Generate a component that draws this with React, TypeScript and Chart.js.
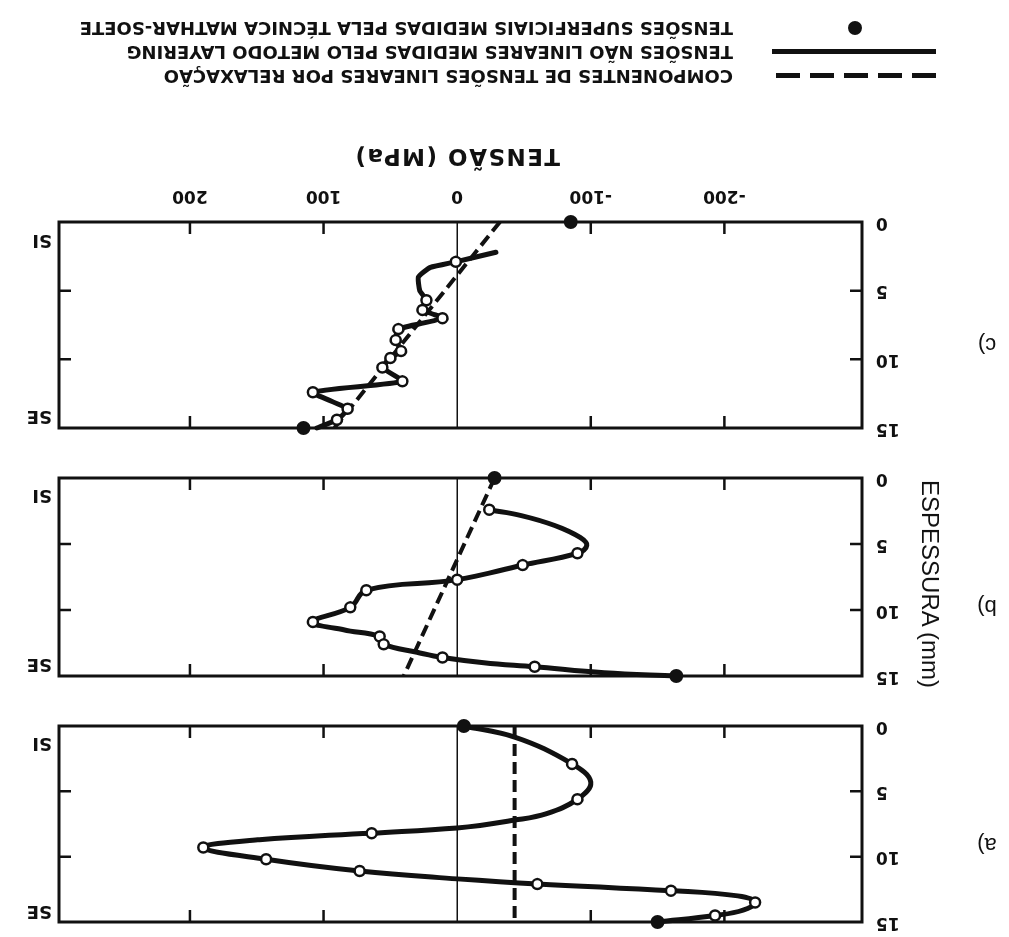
import React, { useEffect, useRef } from 'react';
import { Chart, registerables } from 'chart.js';

Chart.register(...registerables);

// ---------- data (stress MPa, thickness mm) ----------
const X_TICKS = [-200, -100, 0, 100, 200];
const X_MARKS = [-200, -100, 100, 200];
const Y_TICKS = [0, 5, 10, 15];
const Y_MARKS = [5, 10];
const SIDE_LABELS = ['SI', 'SE'];
const SIDE_POS = [1.3, 14.1];
const PANEL_LABELS = ['a)', 'b)', 'c)'];
const X_TITLE = 'TENSÃO (MPa)';
const Y_TITLE = 'ESPESSURA (mm)';
const LEGEND_LABELS = [
  'COMPONENTES DE TENSÕES LINEARES POR RELAXAÇÃO',
  'TENSÕES NÃO LINEARES MEDIDAS PELO METODO LAYERING',
  'TENSÕES SUPERFICIAIS MEDIDAS PELA TÉCNICA MATHAR-SOETE',
];

// panel a
const A_CURVE = [[-5, 0], [-43, 0.85], [-86, 2.9], [-100, 4.3], [-90, 5.6], [-67, 6.7], [-43, 7.2], [0, 7.8], [64, 8.2], [148, 8.7], [190, 9.3], [143, 10.2], [73, 11.1], [0, 11.7], [-60, 12.1], [-160, 12.6], [-210, 13.0], [-223, 13.5], [-214, 14.1], [-193, 14.5], [-150, 15]];
const A_OPEN = [[-86, 2.9], [-90, 5.6], [64, 8.2], [190, 9.3], [143, 10.2], [73, 11.1], [-60, 12.1], [-160, 12.6], [-223, 13.5], [-193, 14.5]];
const A_FILLED = [[-5, 0], [-150, 15]];
const A_DASH = [[-43, 0], [-43, 15]];

// panel b
const B_CURVE = [[-24, 2.4], [-48, 2.85], [-73, 3.6], [-92, 4.5], [-97, 5.1], [-90, 5.7], [-49, 6.6], [0, 7.7], [68, 8.5], [80, 9.8], [108, 10.9], [85, 11.5], [58, 12.0], [55, 12.6], [30, 13.2], [11, 13.6], [-20, 14.0], [-58, 14.3], [-110, 14.75], [-164, 15]];
const B_OPEN = [[-24, 2.4], [-90, 5.7], [-49, 6.6], [0, 7.7], [68, 8.5], [80, 9.8], [108, 10.9], [58, 12.0], [55, 12.6], [11, 13.6], [-58, 14.3]];
const B_FILLED = [[-28, 0], [-164, 15]];
const B_DASH = [[-28, 0], [40, 15]];

// panel c
const C_CURVE = [[-29, 2.2], [1, 2.9], [20, 3.3], [29, 4.0], [28, 5.0], [23, 5.7], [26, 6.4], [11, 7.0], [44, 7.8], [46, 8.6], [42, 9.4], [50, 9.9], [56, 10.6], [41, 11.6], [108, 12.4], [82, 13.6], [90, 14.4], [105, 15]];
const C_OPEN = [[1, 2.9], [23, 5.7], [26, 6.4], [11, 7.0], [44, 7.8], [46, 8.6], [42, 9.4], [50, 9.9], [56, 10.6], [41, 11.6], [108, 12.4], [82, 13.6], [90, 14.4]];
const C_FILLED = [[-85, 0], [115, 15]];
const C_DASH = [[-32, 0], [92, 15]];

const INK = '#111';
const W = 1009;
const H = 937;

const pts = (arr: number[][]) => arr.map(([x, y]) => ({ x, y }));

const framePlugin = {
  id: 'frame',
  beforeDatasetsDraw(chart: any) {
    const { ctx, chartArea: a, scales } = chart;
    const x = scales.x;
    const y = scales.y;
    ctx.save();
    ctx.strokeStyle = INK;
    ctx.lineWidth = 3;
    ctx.strokeRect(a.left, a.top, a.right - a.left, a.bottom - a.top);
    ctx.lineWidth = 2.5;
    const L = 12;
    ctx.beginPath();
    for (const v of X_MARKS) {
      const px = x.getPixelForValue(v);
      ctx.moveTo(px, a.top);
      ctx.lineTo(px, a.top + L);
      ctx.moveTo(px, a.bottom);
      ctx.lineTo(px, a.bottom - L);
    }
    for (const v of Y_MARKS) {
      const py = y.getPixelForValue(v);
      ctx.moveTo(a.left, py);
      ctx.lineTo(a.left + L, py);
      ctx.moveTo(a.right, py);
      ctx.lineTo(a.right - L, py);
    }
    ctx.stroke();
    ctx.restore();
  },
};

type PanelProps = {
  curve: number[][];
  open: number[][];
  filled: number[][];
  dash: number[][];
  areaTop: number;
  areaH: number;
  showX: boolean;
  tension: number;
};

const tickFont = { family: '"DejaVu Sans"', weight: 'bold' as const, size: 17 };

function Panel({ curve, open, filled, dash, areaTop, areaH, showX, tension }: PanelProps) {
  const ref = useRef<HTMLCanvasElement>(null);
  const padTop = 20;
  const padBottom = showX ? 0 : 20;
  const xH = showX ? 50 : 0;
  const h = padTop + areaH + padBottom + xH;
  const top = areaTop - padTop;

  useEffect(() => {
    const chart = new Chart(ref.current as HTMLCanvasElement, {
      type: 'scatter',
      data: {
        datasets: [
          { label: 'filled', data: pts(filled), pointRadius: 7, pointBackgroundColor: INK, pointBorderColor: INK, pointBorderWidth: 0, showLine: false, order: 0, clip: false } as any,
          { label: 'open', data: pts(open), pointRadius: 5, pointBackgroundColor: '#fff', pointBorderColor: INK, pointBorderWidth: 2.5, showLine: false, order: 1, clip: false } as any,
          { label: 'dash', data: pts(dash), showLine: true, borderColor: INK, borderWidth: 4, borderDash: [12, 6], pointRadius: 0, order: 2, clip: false } as any,
          { label: 'curve', data: pts(curve), showLine: true, borderColor: INK, borderWidth: 5, tension, pointRadius: 0, order: 3, clip: false, borderCapStyle: 'round', borderJoinStyle: 'round' } as any,
        ],
      },
      options: {
        responsive: false,
        animation: false,
        events: [],
        layout: { padding: { top: padTop, bottom: padBottom, left: 0, right: 0 } },
        plugins: { legend: { display: false }, tooltip: { enabled: false } },
        scales: {
          x: {
            type: 'linear',
            min: -303,
            max: 298,
            position: 'bottom',
            afterBuildTicks: (s: any) => { s.ticks = X_TICKS.map((v) => ({ value: v })); },
            afterFit: (s: any) => { s.height = xH; s.paddingLeft = 0; s.paddingRight = 0; },
            grid: {
              color: (c: any) => (c.tick && c.tick.value === 0 ? INK : 'rgba(0,0,0,0)'),
              lineWidth: 1.5,
              drawTicks: false,
            },
            border: { display: false },
            ticks: { display: showX, padding: 16, font: tickFont, color: INK, autoSkip: false, maxRotation: 0, callback: (v: any) => String(v) },
          },
          y: {
            type: 'linear',
            min: 0,
            max: 15,
            position: 'left',
            afterBuildTicks: (s: any) => { s.ticks = Y_TICKS.map((v) => ({ value: v })); },
            afterFit: (s: any) => { s.width = 147; s.paddingTop = 0; s.paddingBottom = 0; },
            grid: { display: false, drawTicks: false },
            border: { display: false },
            ticks: { padding: 14, font: tickFont, color: INK, autoSkip: false, callback: (v: any) => String(v) },
          },
          y2: {
            type: 'linear',
            min: 0,
            max: 15,
            position: 'right',
            afterBuildTicks: (s: any) => { s.ticks = SIDE_POS.map((v) => ({ value: v })); },
            afterFit: (s: any) => { s.width = W - 950; s.paddingTop = 0; s.paddingBottom = 0; },
            grid: { display: false, drawTicks: false },
            border: { display: false },
            ticks: { padding: 7, font: { family: '"DejaVu Sans"', weight: 'bold', size: 18 }, color: INK, autoSkip: false, callback: (_v: any, i: number) => SIDE_LABELS[i] },
          },
        },
      } as any,
      plugins: [framePlugin],
    });
    return () => chart.destroy();
  }, []);

  return (
    <canvas
      ref={ref}
      width={W}
      height={h}
      style={{ position: 'absolute', left: 0, top, width: W, height: h }}
    />
  );
}

const LEG_Y = [861, 885, 909];
const PANEL_LABEL_Y = [92, 330, 592];

export default function App() {
  return (
    <div
      style={{
        position: 'absolute',
        left: 0,
        top: 0,
        width: W,
        height: H,
        background: '#fff',
        transform: 'rotate(180deg)',
        overflow: 'hidden',
        color: INK,
      }}
    >
      <Panel curve={A_CURVE} open={A_OPEN} filled={A_FILLED} dash={A_DASH} areaTop={15} areaH={196} showX={false} tension={0.4} />
      <Panel curve={B_CURVE} open={B_OPEN} filled={B_FILLED} dash={B_DASH} areaTop={261} areaH={198} showX={false} tension={0.4} />
      <Panel curve={C_CURVE} open={C_OPEN} filled={C_FILLED} dash={C_DASH} areaTop={509} areaH={206} showX={true} tension={0.15} />

      {PANEL_LABELS.map((t, i) => (
        <div key={t} style={{ position: 'absolute', left: 22, top: PANEL_LABEL_Y[i], transform: 'translate(-50%,-50%)', font: '22px "Liberation Sans"', lineHeight: 1, whiteSpace: 'nowrap' }}>{t}</div>
      ))}

      <div style={{ position: 'absolute', left: 79, top: 353, transform: 'translate(-50%,-50%) rotate(-90deg)', font: '24px "Liberation Sans"', lineHeight: 1, whiteSpace: 'nowrap' }}>{Y_TITLE}</div>

      <div style={{ position: 'absolute', left: 552, top: 780, transform: 'translate(-50%,-50%)', font: 'bold 23px "DejaVu Sans"', letterSpacing: '1.5px', lineHeight: 1, whiteSpace: 'nowrap' }}>{X_TITLE}</div>

      {LEGEND_LABELS.map((t, i) => (
        <div key={t} style={{ position: 'absolute', left: 276, top: LEG_Y[i], transform: 'translateY(-50%)', font: 'bold 18px "DejaVu Sans"', lineHeight: 1, whiteSpace: 'nowrap' }}>{t}</div>
      ))}
      {/* legend symbols */}
      <div style={{ position: 'absolute', left: 73, top: LEG_Y[0] - 2.5, width: 164, height: 5, background: `repeating-linear-gradient(90deg, ${INK} 0 24px, transparent 24px 34px)` }} />
      <div style={{ position: 'absolute', left: 73, top: LEG_Y[1] - 2.5, width: 164, height: 5, background: INK }} />
      <div style={{ position: 'absolute', left: 154 - 7, top: LEG_Y[2] - 7, width: 14, height: 14, borderRadius: '50%', background: INK }} />
    </div>
  );
}
